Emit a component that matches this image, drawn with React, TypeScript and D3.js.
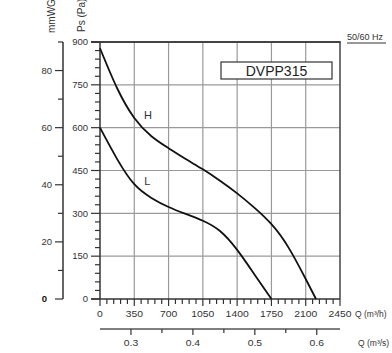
import * as d3 from 'd3'

// fan curve, static pressure vs air flow
const qH = [0, 175, 350, 525, 700, 875, 1050, 1225, 1400, 1575, 1750, 1925, 2100, 2205]
const psH = [878, 738, 634, 570, 528, 490, 454, 414, 370, 320, 262, 180, 70, 0]
const qL = [0, 175, 350, 525, 700, 875, 1050, 1225, 1400, 1575, 1750]
const psL = [600, 490, 402, 354, 322, 298, 274, 238, 172, 87, 0]

const qTicks = [0, 350, 700, 1050, 1400, 1750, 2100, 2450]
const paTicks = [0, 150, 300, 450, 600, 750, 900]
const mmTicks = [0, 20, 40, 60, 80]
const qsTicks = [0.3, 0.4, 0.5, 0.6]

const FONT = '"Liberation Sans", Arial, sans-serif'
const TXT = '#333'

const App = () => {
  const x = d3.scaleLinear().domain([0, 2450]).range([100, 340])
  const y = d3.scaleLinear().domain([0, 900]).range([299, 42])
  const ymm = d3.scaleLinear().domain([0, 90]).range([299, 42])
  const xs = d3.scaleLinear().domain([0.25, 0.6375]).range([100, 340])

  const line = d3
    .line<number>()
    .x((d) => x(d))
    .curve(d3.curveNatural)

  const pathH = line.y((d, i) => y(psH[i]))(qH)
  const pathL = line.y((d, i) => y(psL[i]))(qL)

  const qMinor = d3.range(0, 2451, 70)
  const paMinor = d3.range(0, 901, 30)
  const mmMinor = d3.range(10, 91, 20)
  const qsMinor = [0.35, 0.45, 0.55]

  return (
    <svg
      width={392}
      height={353}
      style={{ position: 'absolute', left: 0, top: 0, background: '#fff' }}
      fontFamily={FONT}
    >
      {/* grid */}
      {qTicks.slice(1, -1).map((q) => (
        <line key={'gv' + q} x1={x(q)} x2={x(q)} y1={y(900)} y2={y(0)} stroke="#9a9a9a" strokeWidth={1.2} />
      ))}
      {paTicks.slice(1, -1).map((p) => (
        <line key={'gh' + p} x1={x(0)} x2={x(2450)} y1={y(p)} y2={y(p)} stroke="#9a9a9a" strokeWidth={1.2} />
      ))}
      <line x1={x(2450)} x2={x(2450)} y1={y(900)} y2={y(0)} stroke="#444" strokeWidth={1.5} />
      <line x1={91} x2={x(2450) + 0.75} y1={y(900)} y2={y(900)} stroke="#444" strokeWidth={2.2} />

      {/* Pa axis */}
      <line x1={x(0)} x2={x(0)} y1={y(900)} y2={y(0)} stroke="#333" strokeWidth={1.5} />
      {paMinor.map((p) => (
        <line key={'pm' + p} x1={p % 150 === 0 ? 91 : 95} x2={x(0)} y1={y(p)} y2={y(p)} stroke="#333" strokeWidth={1.2} />
      ))}
      {paTicks.map((p) => (
        <text key={'pl' + p} x={88} y={y(p)} dy="0.35em" textAnchor="end" fontSize={9.5} fill={TXT}>
          {p}
        </text>
      ))}

      {/* mmWG axis */}
      <line x1={63} x2={63} y1={ymm(90)} y2={ymm(0)} stroke="#333" strokeWidth={1.5} />
      {mmTicks.map((m) => (
        <line key={'mt' + m} x1={55} x2={63} y1={ymm(m)} y2={ymm(m)} stroke="#333" strokeWidth={1.2} />
      ))}
      {mmMinor.map((m) => (
        <line key={'mm' + m} x1={58} x2={63} y1={ymm(m)} y2={ymm(m)} stroke="#333" strokeWidth={1.2} />
      ))}
      {mmTicks.map((m) => (
        <text
          key={'ml' + m}
          x={m === 0 ? 47 : 52}
          y={ymm(m)}
          dy="0.35em"
          textAnchor="end"
          fontSize={9.5}
          fontWeight={m === 0 ? 'bold' : 'normal'}
          fill={m === 0 ? '#111' : TXT}
        >
          {m}
        </text>
      ))}

      <text transform="translate(55,33) rotate(-90)" fontSize={10} fill={TXT}>
        mmWG
      </text>
      <text transform="translate(85,32) rotate(-90)" fontSize={10} fill={TXT}>
        Ps (Pa)
      </text>

      {/* Q m3/h axis */}
      <line x1={91} x2={x(2450)} y1={y(0)} y2={y(0)} stroke="#333" strokeWidth={1.5} />
      {qMinor.map((q) => (
        <line key={'qm' + q} x1={x(q)} x2={x(q)} y1={y(0)} y2={y(0) + (q % 350 === 0 ? 7 : 5)} stroke="#333" strokeWidth={1.2} />
      ))}
      {qTicks.map((q) => (
        <text
          key={'ql' + q}
          transform={`translate(${x(q)},317) scale(1.22,1)`}
          textAnchor="middle"
          fontSize={8.5}
          fill={TXT}
        >
          {q}
        </text>
      ))}
      <text x={355} y={317} fontSize={8.5} fill={TXT}>
        Q (m³/h)
      </text>

      {/* Q m3/s axis */}
      <line x1={xs(0.25)} x2={xs(0.6375)} y1={329} y2={329} stroke="#555" strokeWidth={1.5} />
      {qsTicks.map((q) => (
        <line key={'st' + q} x1={xs(q)} x2={xs(q)} y1={329} y2={335} stroke="#333" strokeWidth={1.2} />
      ))}
      {qsMinor.map((q) => (
        <line key={'sm' + q} x1={xs(q)} x2={xs(q)} y1={329} y2={333} stroke="#333" strokeWidth={1.2} />
      ))}
      {qsTicks.map((q) => (
        <text
          key={'sl' + q}
          transform={`translate(${xs(q)},346) scale(1.22,1)`}
          textAnchor="middle"
          fontSize={8.5}
          fill={TXT}
        >
          {q.toFixed(1)}
        </text>
      ))}
      <text x={358} y={346} fontSize={8.5} fill={TXT}>
        Q (m³/s)
      </text>

      {/* curves */}
      <path d={pathH ?? ''} fill="none" stroke="#111" strokeWidth={1.8} />
      <path d={pathL ?? ''} fill="none" stroke="#111" strokeWidth={1.8} />
      <text x={x(490)} y={y(644)} dy="0.35em" textAnchor="middle" fontSize={11} fill={TXT}>
        H
      </text>
      <text x={x(483)} y={y(414)} dy="0.35em" textAnchor="middle" fontSize={11} fill={TXT}>
        L
      </text>

      {/* model box */}
      <rect x={221} y={62} width={111} height={17} fill="#fff" stroke="#333" strokeWidth={1.2} />
      <text x={276.5} y={75.5} textAnchor="middle" fontSize={14} fill="#222">
        DVPP315
      </text>

      <text x={347} y={40} fontSize={9} fill={TXT}>
        50/60 Hz
      </text>
      <line x1={347} x2={386} y1={43} y2={43} stroke="#333" strokeWidth={1} />
    </svg>
  )
}

export default App
